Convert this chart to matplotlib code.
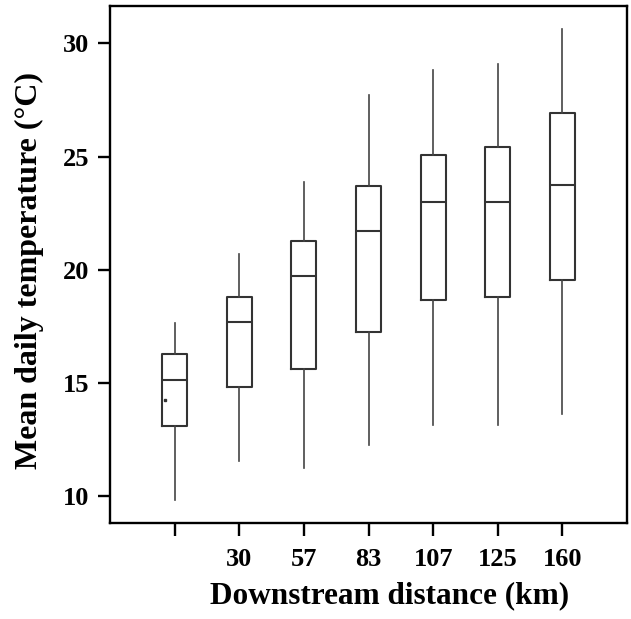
import matplotlib
matplotlib.use('Agg')
import matplotlib.pyplot as plt

# values
labels = ['', '30', '57', '83', '107', '125', '160']
whislo = [9.82, 11.53, 11.23, 12.26, 13.13, 13.13, 13.62]
q1 = [13.10, 14.81, 15.62, 17.26, 18.66, 18.81, 19.56]
med = [15.14, 17.70, 19.74, 21.72, 22.98, 22.98, 23.76]
q3 = [16.26, 18.81, 21.28, 23.70, 25.08, 25.42, 26.91]
whishi = [17.65, 20.70, 23.86, 27.73, 28.84, 29.09, 30.62]
dot_x = [0.85]
dot_y = [14.25]

plt.rcParams['font.family'] = 'Liberation Serif'
plt.rcParams['font.weight'] = 'bold'

fig = plt.figure(figsize=(6.31, 6.19), dpi=100)
ax = fig.add_axes([110/631, 1 - 523/619, 517/631, 517/619])

stats = []
for i in range(len(labels)):
    stats.append({'whislo': whislo[i], 'q1': q1[i], 'med': med[i],
                  'q3': q3[i], 'whishi': whishi[i], 'fliers': []})

ax.bxp(stats, positions=range(1, 8), widths=0.39, showcaps=False,
       boxprops=dict(color='#333333', linewidth=1.5),
       medianprops=dict(color='#333333', linewidth=1.5),
       whiskerprops=dict(color='#444444', linewidth=1.2))
ax.plot(dot_x, dot_y, 's', color='#333333', markersize=1.5)

ax.set_xlim(0, 8)
ax.set_ylim(8.81, 31.65)
ax.set_yticks([10, 15, 20, 25, 30])
ax.set_xticks(range(1, 8))
ax.set_xticklabels(labels)
for s in ax.spines.values():
    s.set_linewidth(1.7)
ax.tick_params(direction='out', length=9, width=1.7, labelsize=19, pad=6)
ax.tick_params(axis='x', pad=9)

ax.set_xlabel('Downstream distance (km)', fontsize=22.5, fontweight='bold')
ax.set_ylabel('Mean daily temperature (°C)', fontsize=23, fontweight='bold')
ax.xaxis.set_label_coords(0.5416, -0.112)
ax.yaxis.set_label_coords(-0.128, 0.489)

fig.savefig('out.png', dpi=100)
